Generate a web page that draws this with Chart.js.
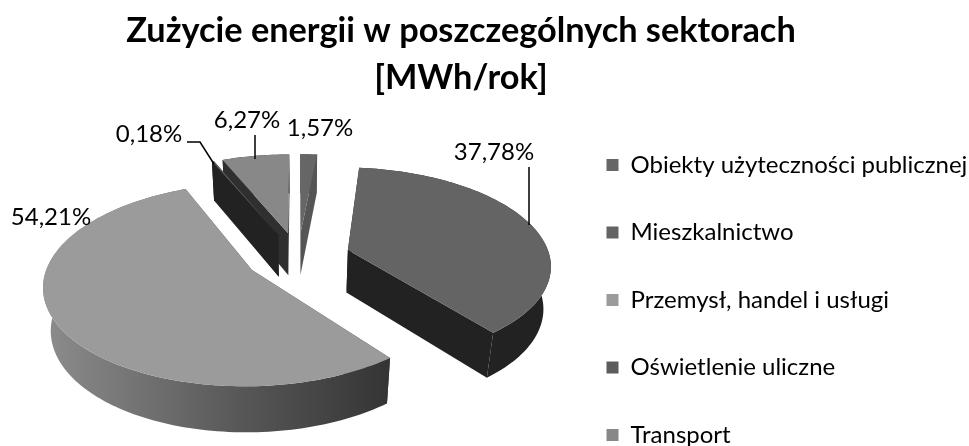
<!DOCTYPE html>
<html>
<head>
<meta charset="utf-8">
<title>Zużycie energii</title>
<script src="https://cdn.jsdelivr.net/npm/chart.js@4/dist/chart.umd.js"></script>
<style>
    html, body { margin: 0; padding: 0; background: #fff; }
    #wrap { position: relative; width: 969px; height: 446px; }
</style>
</head>
<body>
<div id="wrap"><canvas id="energyChart"></canvas></div>
<script>
// Data
const titleLines = ['Zużycie energii w poszczególnych sektorach', '[MWh/rok]'];
const categories = ['Obiekty użyteczności publicznej', 'Mieszkalnictwo', 'Przemysł, handel i usługi', 'Oświetlenie uliczne', 'Transport'];
const shares = [1.57, 37.78, 54.21, 0.18, 6.27];

// Styles
const topColors = ['#666666', '#646464', '#9b9b9b', '#5c5c5c', '#888888'];
const sideColors = ['#555555', '#222222', null, '#222222', '#2f2f2f'];
const fontName = 'Lato, "Open Sans", sans-serif';

// Perspective of the tilted pie, in canvas pixels
const view = { cx: 298, cy: 257, rx: 202, ry: 96, tilt: 0.14, depth: 44, sink: 0.03, explode: 0.26 };
const drawOrder = [4, 3, 0, 1, 2];

// Data labels: centre of each text and its leader line
const labelSpots = [
    { x: 320, y: 128, line: [] },
    { x: 494, y: 152, line: [[529, 167], [529, 225]] },
    { x: 51, y: 217, line: [] },
    { x: 149, y: 134, line: [[187, 142], [200, 142], [214, 164]] },
    { x: 247, y: 120, line: [[255, 135], [255, 159]] }
];

function project(X, Y, z) {
    const w = 1 + view.tilt * Y + view.sink * z;
    return {
        x: view.cx + view.rx * X / w,
        y: view.cy - view.ry * Y / w + view.depth * z / w
    };
}

function fillPoly(ctx, pts, fill) {
    ctx.beginPath();
    pts.forEach((p, i) => (i ? ctx.lineTo(p.x, p.y) : ctx.moveTo(p.x, p.y)));
    ctx.closePath();
    ctx.fillStyle = fill;
    ctx.fill();
}

// Draws the chart's own arc elements as exploded 3D slices
const pie3d = {
    id: 'pie3d',
    afterLayout(chart) {
        // title is centred over the pie and legend rows, not over the page
        chart.titleBlock.right = 922;
        const legend = chart.legend;
        legend.left = 563;
        legend.right = 969;
        legend.top = 109.5;
        legend.bottom = 520;
    },
    beforeDatasetDraw(chart) {
        const ctx = chart.ctx;
        const arcs = chart.getDatasetMeta(0).data;
        drawOrder.forEach(i => {
            const start = arcs[i].startAngle + Math.PI / 2;
            const end = arcs[i].endAngle + Math.PI / 2;
            const mid = (start + end) / 2;
            const ax = view.explode * Math.sin(mid);
            const ay = view.explode * Math.cos(mid);
            const steps = Math.max(2, Math.ceil((end - start) * 40));
            const rim = z => {
                const pts = [];
                for (let s = 0; s <= steps; s++) {
                    const a = start + (end - start) * s / steps;
                    pts.push(project(ax + Math.sin(a), ay + Math.cos(a), z));
                }
                return pts;
            };
            const top = rim(0);
            const bottom = rim(1);
            const apexTop = project(ax, ay, 0);
            const apexBottom = project(ax, ay, 1);

            let side = sideColors[i];
            if (!side) {
                side = ctx.createLinearGradient(45, 0, 395, 0);
                side.addColorStop(0, '#8c8c8c');
                side.addColorStop(0.55, '#585858');
                side.addColorStop(1, '#333333');
            }
            fillPoly(ctx, [apexTop, top[0], bottom[0], apexBottom], side);
            fillPoly(ctx, [apexTop, top[steps], bottom[steps], apexBottom], side);
            fillPoly(ctx, top.concat(bottom.slice().reverse()), side);
            fillPoly(ctx, [apexTop].concat(top), topColors[i]);
        });
        return false;
    },
    afterDraw(chart) {
        const ctx = chart.ctx;
        ctx.save();
        ctx.strokeStyle = '#000';
        ctx.lineWidth = 1.5;
        ctx.fillStyle = '#000';
        ctx.font = '24px ' + fontName;
        ctx.textAlign = 'center';
        ctx.textBaseline = 'middle';
        shares.forEach((v, i) => {
            const spot = labelSpots[i];
            if (spot.line.length) {
                ctx.beginPath();
                spot.line.forEach((p, k) => (k ? ctx.lineTo(p[0], p[1]) : ctx.moveTo(p[0], p[1])));
                ctx.stroke();
            }
            ctx.fillText(v.toFixed(2).replace('.', ',') + '%', spot.x, spot.y);
        });
        ctx.restore();
    }
};

new Chart(document.getElementById('energyChart'), {
    type: 'pie',
    data: {
        labels: categories,
        datasets: [{
            data: shares,
            backgroundColor: topColors,
            borderWidth: 0
        }]
    },
    options: {
        responsive: true,
        maintainAspectRatio: false,
        animation: false,
        plugins: {
            title: {
                display: true,
                text: titleLines,
                color: '#000',
                font: { family: fontName, size: 34.3, weight: 'bold', lineHeight: 1.38 },
                padding: { top: 7, bottom: -50 }
            },
            legend: {
                position: 'right',
                align: 'start',
                labels: {
                    color: '#000',
                    font: { family: fontName, size: 24 },
                    boxWidth: 12,
                    boxHeight: 12,
                    padding: 43.5
                }
            },
            tooltip: { enabled: false }
        }
    },
    plugins: [pie3d]
});
</script>
</body>
</html>
